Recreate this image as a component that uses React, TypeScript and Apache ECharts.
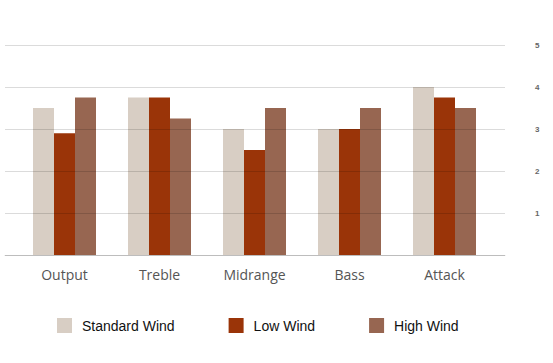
import React, { useEffect, useRef } from "react";
import * as echarts from "echarts";

const categories = ["Output", "Treble", "Midrange", "Bass", "Attack"];
const standardWind = [3.5, 3.75, 3.0, 3.0, 4.0];
const lowWind = [2.9, 3.75, 2.5, 3.0, 3.75];
const highWind = [3.75, 3.25, 3.5, 3.5, 3.5];
const yTicks = [0, 1, 2, 3, 4, 5];

export default function App() {
  const ref = useRef<HTMLDivElement>(null);
  useEffect(() => {
    const chart = echarts.init(ref.current!, null, { renderer: "svg" });
    chart.setOption({
      animation: false,
      backgroundColor: "#ffffff",
      legend: {
        left: 57,
        top: 318,
        padding: 0,
        itemWidth: 15,
        itemHeight: 15,
        itemGap: 54,
        icon: "rect",
        textStyle: {
          fontFamily: "Liberation Sans, Arial, sans-serif",
          fontSize: 14,
          color: "#111",
          padding: [12, 0, 0, 5],
        },
        data: ["Standard Wind", "Low Wind", "High Wind"],
      },
      grid: [
        { left: 5, right: 48, top: 45, bottom: 108 },
        { left: 17, right: 61, top: 45, bottom: 108 },
      ],
      xAxis: [
        {
          gridIndex: 0,
          type: "category",
          data: categories,
          axisLine: { show: true, lineStyle: { color: "#dddddd" } },
          axisTick: { show: false },
          axisLabel: { show: false },
        },
        {
          gridIndex: 1,
          type: "category",
          data: categories,
          axisLine: { show: false },
          axisTick: { show: false },
          axisLabel: {
            fontFamily: "Open Sans, Noto Sans, sans-serif",
            fontSize: 14,
            color: "#555",
            margin: 12,
          },
        },
      ],
      yAxis: [
        {
          gridIndex: 0,
          type: "value",
          position: "right",
          min: 0,
          max: 5,
          interval: 1,
          z: 5,
          axisLine: { show: false },
          axisTick: { show: false },
          splitLine: { lineStyle: { color: "rgba(0,0,0,0.14)", width: 1 } },
          axisLabel: {
            margin: 30,
            fontSize: 8,
            fontWeight: "bold",
            color: "#666",
            fontFamily: "Liberation Sans, Arial, sans-serif",
            formatter: (v: number) => (v === 0 ? "" : String(yTicks[v])),
          },
        },
        {
          gridIndex: 1,
          type: "value",
          min: 0,
          max: 5,
          interval: 1,
          show: false,
          splitLine: { show: false },
        },
      ],
      series: [
        {
          name: "Standard Wind",
          type: "bar",
          xAxisIndex: 1,
          yAxisIndex: 1,
          data: standardWind,
          barWidth: 21,
          barGap: "0%",
          itemStyle: { color: "#D8CEC4" },
        },
        {
          name: "Low Wind",
          type: "bar",
          xAxisIndex: 1,
          yAxisIndex: 1,
          data: lowWind,
          barWidth: 21,
          barGap: "0%",
          itemStyle: { color: "#9A3408" },
        },
        {
          name: "High Wind",
          type: "bar",
          xAxisIndex: 1,
          yAxisIndex: 1,
          data: highWind,
          barWidth: 21,
          barGap: "0%",
          itemStyle: { color: "#976651" },
        },
      ],
    });
    return () => chart.dispose();
  }, []);
  return <div ref={ref} style={{ width: 553, height: 363, position: "absolute", left: 0, top: 0 }} />;
}
